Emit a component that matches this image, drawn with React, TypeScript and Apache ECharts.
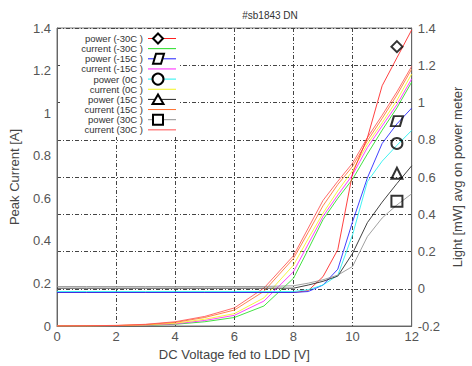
import React, { useEffect, useRef } from 'react';
import * as echarts from 'echarts';

const voltage = [0, 1, 2, 3, 4, 5, 6, 7, 8, 8.5, 9, 9.5, 10, 10.5, 11, 11.5, 12];

// Peak current [A] (left axis)
const currentM30 = [0, 0, 0.001, 0.003, 0.008, 0.02, 0.04, 0.094, 0.224, 0.36, 0.5, 0.6, 0.69, 0.808, 0.92, 1.025, 1.146];
const currentM15 = [0, 0, 0.001, 0.004, 0.01, 0.026, 0.05, 0.117, 0.255, 0.385, 0.515, 0.615, 0.71, 0.838, 0.94, 1.04, 1.161];
const current0 = [0, 0, 0.002, 0.005, 0.013, 0.032, 0.058, 0.132, 0.286, 0.41, 0.53, 0.635, 0.73, 0.854, 0.955, 1.06, 1.184];
const current15 = [0, 0.001, 0.002, 0.007, 0.017, 0.04, 0.075, 0.163, 0.317, 0.44, 0.565, 0.665, 0.75, 0.87, 0.975, 1.085, 1.207];
const current30 = [0, 0.001, 0.003, 0.008, 0.02, 0.045, 0.085, 0.178, 0.33, 0.46, 0.59, 0.68, 0.765, 0.885, 0.99, 1.1, 1.22];

// Light [mW] (right axis)
const powerM30 = [-0.02, -0.02, -0.02, -0.02, -0.02, -0.02, -0.02, -0.02, -0.02, -0.01, 0.065, 0.21, 0.62, 0.81, 1.09, 1.24, 1.39];
const powerM15 = [-0.02, -0.02, -0.02, -0.02, -0.02, -0.02, -0.02, -0.02, -0.02, -0.015, 0.02, 0.105, 0.36, 0.595, 0.78, 0.885, 0.97];
const power0 = [-0.015, -0.015, -0.015, -0.015, -0.015, -0.015, -0.015, -0.015, -0.015, -0.005, 0.02, 0.072, 0.29, 0.575, 0.685, 0.77, 0.85];
const power15 = [0.003, 0.003, 0.003, 0.003, 0.003, 0.003, 0.003, 0.003, 0.003, 0.02, 0.04, 0.068, 0.19, 0.355, 0.465, 0.565, 0.66];
const power30 = [0.012, 0.012, 0.012, 0.012, 0.012, 0.012, 0.012, 0.012, 0.016, 0.03, 0.048, 0.073, 0.12, 0.28, 0.38, 0.45, 0.51];

const markerVoltage = 11.5;
const markerPower = [1.3, 0.9, 0.78, 0.62, 0.47];

const legendLabels = [
  'power (-30C )', 'current (-30C )',
  'power (-15C )', 'current (-15C )',
  'power (0C )', 'current (0C )',
  'power (15C )', 'current (15C )',
  'power (30C )', 'current (30C )',
];

const colors = ['#ff2020', '#22dd22', '#2020ff', '#ff20ff', '#20f0f0', '#f4f420', '#222222', '#ff7030', '#909090', '#ff5050'];
const markerShapes = ['diamond', 'parallelogram', 'circle', 'triangle', 'square'];
const scatterSymbols = ['diamond', 'path://M3,0L12,0L9,10L0,10Z', 'circle', 'triangle', 'rect'];

const FONT = 'Liberation Sans, Arial, sans-serif';

function pair(ys: number[]) {
  return voltage.map((v, i) => [v, ys[i]]);
}

function legendGraphics() {
  const els: any[] = [];
  els.push({ type: 'rect', z: 100, shape: { x: 60, y: 29, width: 119, height: 108 }, style: { fill: '#fff' } });
  legendLabels.forEach((label, i) => {
    const y = 38.5 + 10.15 * i;
    els.push({
      type: 'text', z: 101, x: 143, y,
      style: { text: label, fill: '#333', font: `9.5px ${FONT}`, textAlign: 'right', textVerticalAlign: 'middle' },
    });
    els.push({
      type: 'line', z: 101, shape: { x1: 148, y1: y, x2: 176, y2: y },
      style: { stroke: colors[i], lineWidth: 1 },
    });
    if (i % 2 === 0) {
      const k = i / 2;
      const cx = 158;
      const st = { fill: '#fff', stroke: '#000', lineWidth: 2 };
      const shape = markerShapes[k];
      if (shape === 'diamond') {
        els.push({ type: 'polygon', z: 102, shape: { points: [[cx, y - 5], [cx + 5, y], [cx, y + 5], [cx - 5, y]] }, style: st });
      } else if (shape === 'parallelogram') {
        els.push({ type: 'polygon', z: 102, shape: { points: [[cx - 2, y - 5], [cx + 6, y - 5], [cx + 3, y + 5], [cx - 5, y + 5]] }, style: st });
      } else if (shape === 'circle') {
        els.push({ type: 'circle', z: 102, shape: { cx, cy: y, r: 5.5 }, style: st });
      } else if (shape === 'triangle') {
        els.push({ type: 'polygon', z: 102, shape: { points: [[cx, y - 5], [cx + 5.5, y + 4.5], [cx - 5.5, y + 4.5]] }, style: st });
      } else {
        els.push({ type: 'rect', z: 102, shape: { x: cx - 5, y: y - 5, width: 10, height: 10 }, style: st });
      }
    }
  });
  return els;
}

export default function App() {
  const ref = useRef<HTMLDivElement>(null);
  useEffect(() => {
    const chart = echarts.init(ref.current!, undefined, { renderer: 'svg' });
    const gridLine = { show: true, lineStyle: { color: '#444', type: [4, 2, 1, 2], width: 1 } };
    const currents = [currentM30, currentM15, current0, current15, current30];
    const powers = [powerM30, powerM15, power0, power15, power30];
    const series: any[] = [];
    currents.forEach((c, k) => {
      series.push({
        type: 'line', name: legendLabels[2 * k + 1], yAxisIndex: 0, data: pair(c),
        showSymbol: false, symbol: 'none', lineStyle: { color: colors[2 * k + 1], width: 1, opacity: 0.85 },
      });
    });
    powers.forEach((p, k) => {
      series.push({
        type: 'line', name: legendLabels[2 * k], yAxisIndex: 1, data: pair(p),
        showSymbol: false, symbol: 'none', lineStyle: { color: colors[2 * k], width: 1, opacity: 0.85 },
      });
      series.push({
        type: 'scatter', yAxisIndex: 1, data: [[markerVoltage, markerPower[k]]],
        symbol: scatterSymbols[k], symbolSize: k === 1 ? [12, 10] : 11,
        itemStyle: { color: 'rgba(255,255,255,0)', borderColor: '#000', borderWidth: 2 },
        z: 5,
      });
    });
    chart.setOption({
      animation: false,
      backgroundColor: '#fff',
      textStyle: { fontFamily: FONT },
      title: {
        text: '#sb1843 DN', left: 265, top: 5, textAlign: 'center',
        textStyle: { fontSize: 10, fontWeight: 'normal', color: '#333', fontFamily: FONT },
      },
      grid: { left: 56, right: 39, top: 28, bottom: 34, show: true, borderColor: '#777', borderWidth: 1, containLabel: false },
      xAxis: {
        type: 'value', min: 0, max: 12, interval: 2,
        name: 'DC Voltage fed to LDD [V]', nameLocation: 'middle', nameGap: 22,
        nameTextStyle: { fontSize: 13, color: '#444', fontFamily: FONT },
        axisLine: { show: true, lineStyle: { color: '#666' } },
        axisTick: { show: false },
        axisLabel: { fontSize: 13, color: '#555', margin: 4, fontFamily: FONT },
        splitLine: gridLine,
      },
      yAxis: [
        {
          type: 'value', min: 0, max: 1.4, interval: 0.2, position: 'left',
          name: 'Peak Current [A]', nameLocation: 'middle', nameGap: 36,
          nameTextStyle: { fontSize: 13, color: '#444', fontFamily: FONT },
          axisLine: { show: true, lineStyle: { color: '#666' } },
          axisTick: { show: false },
          axisLabel: { fontSize: 13, color: '#555', margin: 6, fontFamily: FONT },
          splitLine: { show: false },
        },
        {
          type: 'value', min: -0.2, max: 1.4, interval: 0.2, position: 'right',
          name: 'Light [mW] avg on power meter', nameLocation: 'middle', nameGap: 34, nameRotate: 90,
          nameTextStyle: { fontSize: 13, color: '#444', fontFamily: FONT },
          axisLine: { show: true, lineStyle: { color: '#666' } },
          axisTick: { show: false },
          axisLabel: { fontSize: 13, color: '#555', margin: 6, fontFamily: FONT },
          splitLine: gridLine,
        },
      ],
      series,
      graphic: legendGraphics(),
    });
    return () => chart.dispose();
  }, []);
  return <div ref={ref} style={{ position: 'absolute', left: 0, top: 0, width: 472, height: 366 }} />;
}
